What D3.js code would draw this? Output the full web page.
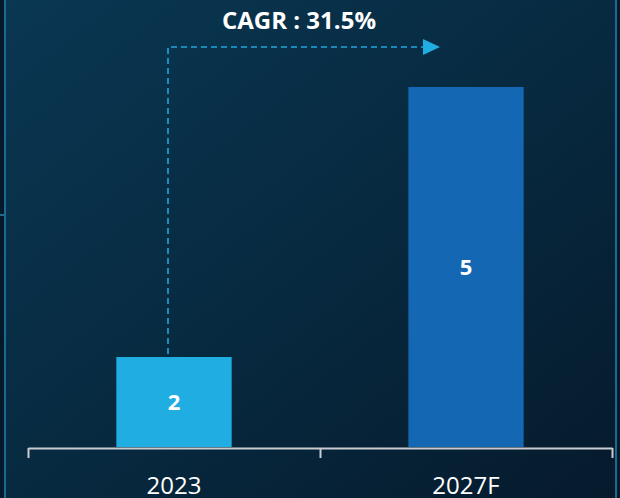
<!DOCTYPE html>
<html>
<head>
<meta charset="utf-8">
<script src="https://cdn.jsdelivr.net/npm/d3@7"></script>
<style>
  html, body { margin: 0; padding: 0; background: #061c2e; }
  svg { display: block; }
</style>
</head>
<body>
<div id="chart"></div>
<script>
var categories = ['2023', '2027F'];
var values = [2, 5];
var barColors = ['#20ade2', '#1367b3'];
var cagrLabel = 'CAGR : 31.5%';

var width = 620, height = 498
  , left = 28, right = 612
  , baseY = 447, topY = 87
  ;

var svg = d3.select('#chart').append('svg')
    .attr('width', width)
    .attr('height', height);

// background
var defs = svg.append('defs');
var grad = defs.append('linearGradient')
    .attr('id', 'bg')
    .attr('x1', '0%').attr('y1', '0%')
    .attr('x2', '100%').attr('y2', '100%');
grad.append('stop').attr('offset', '0%').attr('stop-color', '#0a3753');
grad.append('stop').attr('offset', '50%').attr('stop-color', '#072a40');
grad.append('stop').attr('offset', '100%').attr('stop-color', '#061a2c');

svg.append('rect')
    .attr('width', width).attr('height', height)
    .attr('fill', 'url(#bg)');

// frame edges
svg.append('rect').attr('x', 0).attr('y', 0).attr('width', 4).attr('height', height).attr('fill', '#05192a');
svg.append('rect').attr('x', 4).attr('y', 0).attr('width', 2).attr('height', height).attr('fill', '#1d6a90');
svg.append('rect').attr('x', 0).attr('y', 214).attr('width', 6).attr('height', 2).attr('fill', '#1d6a90');
svg.append('rect').attr('x', 615).attr('y', 0).attr('width', 2).attr('height', height).attr('fill', '#1d6a90');
svg.append('rect').attr('x', 617).attr('y', 0).attr('width', 3).attr('height', height).attr('fill', '#05192a');

// scales
var x = d3.scaleBand()
    .domain(categories)
    .range([left, right])
    .padding(0);

var xEdge = d3.scaleLinear()
    .domain([0, categories.length])
    .range([left, right]);

var y = d3.scaleLinear()
    .domain([1, 5])
    .range([baseY, topY]);

var barW = x.bandwidth() * 0.395;

// bars
svg.append('g').selectAll('rect')
    .data(values)
  .enter().append('rect')
    .attr('x', (d, i) => x(categories[i]) + (x.bandwidth() - barW) / 2)
    .attr('y', d => y(d))
    .attr('width', barW)
    .attr('height', d => baseY - y(d))
    .attr('fill', (d, i) => barColors[i]);

// value labels
svg.append('g').selectAll('text')
    .data(values)
  .enter().append('text')
    .attr('x', (d, i) => x(categories[i]) + x.bandwidth() / 2)
    .attr('y', d => (y(d) + baseY) / 2)
    .attr('dy', '0.38em')
    .attr('text-anchor', 'middle')
    .style('font', 'bold 22px "Open Sans", sans-serif')
    .attr('fill', '#ffffff')
    .text(d => d);

// axis bracket
var axBracket = d3.axisBottom(xEdge)
    .tickValues(d3.range(0, categories.length + 1))
    .tickSize(10)
    .tickSizeOuter(0)
    .tickFormat('');

var gBracket = svg.append('g')
    .attr('transform', 'translate(0,' + (baseY + 1) + ')')
    .call(axBracket);
gBracket.selectAll('path, line')
    .attr('stroke', '#c9cdd1')
    .attr('stroke-width', 2);

// category labels
var axCat = d3.axisBottom(x).tickSize(0).tickPadding(0);
var gCat = svg.append('g')
    .attr('transform', 'translate(0,' + (baseY + 1) + ')')
    .call(axCat);
gCat.select('.domain').remove();
gCat.selectAll('text')
    .attr('y', 46)
    .attr('dy', 0)
    .style('font', '24px "Open Sans", sans-serif')
    .attr('fill', '#ffffff');

// CAGR arrow
var arrowY = 47;
var x0 = x(categories[0]) + x.bandwidth() / 2 - 6;
var x1 = 424;
svg.append('path')
    .attr('d', 'M' + x0 + ',' + (y(values[0]) - 3) + 'V' + arrowY + 'H' + x1)
    .attr('fill', 'none')
    .attr('stroke', '#1fa6dc')
    .attr('stroke-width', 1.6)
    .attr('stroke-dasharray', '6,4');

svg.append('path')
    .attr('d', 'M' + (x1 - 1) + ',' + (arrowY - 8) + 'L' + (x1 + 16) + ',' + arrowY + 'L' + (x1 - 1) + ',' + (arrowY + 8) + 'Z')
    .attr('fill', '#20ade2');

svg.append('text')
    .attr('x', 299)
    .attr('y', 29)
    .attr('text-anchor', 'middle')
    .style('font', 'bold 24px "Open Sans", sans-serif')
    .attr('fill', '#ffffff')
    .text(cagrLabel);
</script>
</body>
</html>
